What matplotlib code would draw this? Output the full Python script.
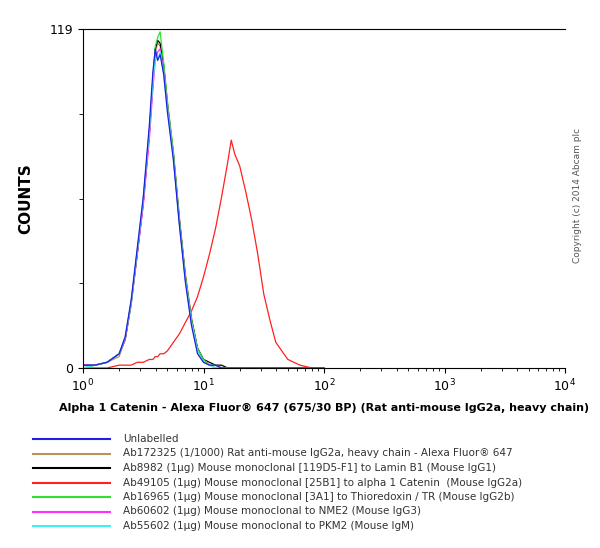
import matplotlib
matplotlib.use("Agg")
import matplotlib.pyplot as plt
from matplotlib.lines import Line2D
import numpy as np

logx = [0.0, 0.1, 0.2, 0.3, 0.35, 0.4, 0.45, 0.5, 0.55, 0.58, 0.6, 0.62, 0.64, 0.67, 0.7, 0.75, 0.8, 0.85, 0.9, 0.95, 1.0, 1.05, 1.1, 1.15, 1.2, 1.23, 1.26, 1.3, 1.35, 1.4, 1.45, 1.5, 1.55, 1.6, 1.7, 1.8, 1.9, 2.0]
unlabelled = [1, 1, 2, 5, 11, 24, 42, 60, 85, 104, 112, 108, 110, 103, 90, 73, 50, 30, 15, 5, 2, 1, 1, 0, 0, 0, 0, 0, 0, 0, 0, 0, 0, 0, 0, 0, 0, 0]
secondary  = [0, 1, 2, 4, 10, 22, 40, 58, 82, 100, 111, 114, 113, 106, 93, 76, 53, 33, 18, 7, 3, 1, 1, 0, 0, 0, 0, 0, 0, 0, 0, 0, 0, 0, 0, 0, 0, 0]
lamin      = [1, 1, 2, 5, 10, 23, 40, 58, 82, 101, 112, 115, 114, 106, 93, 75, 52, 32, 17, 7, 3, 2, 1, 1, 0, 0, 0, 0, 0, 0, 0, 0, 0, 0, 0, 0, 0, 0]
catenin    = [0, 0, 0, 1, 1, 1, 2, 2, 3, 3, 4, 4, 5, 5, 6, 9, 12, 16, 20, 25, 32, 40, 49, 60, 72, 80, 75, 71, 62, 52, 40, 26, 17, 9, 3, 1, 0, 0]
thioredoxin= [0, 1, 2, 5, 10, 23, 41, 59, 83, 101, 113, 116, 118, 107, 94, 76, 52, 32, 17, 7, 3, 1, 1, 0, 0, 0, 0, 0, 0, 0, 0, 0, 0, 0, 0, 0, 0, 0]
nme2       = [1, 1, 2, 5, 10, 23, 40, 57, 80, 98, 108, 111, 112, 104, 92, 74, 51, 31, 16, 6, 2, 1, 0, 0, 0, 0, 0, 0, 0, 0, 0, 0, 0, 0, 0, 0, 0, 0]
pkm2       = [0, 1, 2, 5, 11, 23, 41, 59, 83, 100, 109, 108, 111, 103, 91, 74, 51, 31, 16, 6, 2, 1, 0, 0, 0, 0, 0, 0, 0, 0, 0, 0, 0, 0, 0, 0, 0, 0]

labels = ["Unlabelled",
          "Ab172325 (1/1000) Rat anti-mouse IgG2a, heavy chain - Alexa Fluor® 647",
          "Ab8982 (1µg) Mouse monoclonal [119D5-F1] to Lamin B1 (Mouse IgG1)",
          "Ab49105 (1µg) Mouse monoclonal [25B1] to alpha 1 Catenin  (Mouse IgG2a)",
          "Ab16965 (1µg) Mouse monoclonal [3A1] to Thioredoxin / TR (Mouse IgG2b)",
          "Ab60602 (1µg) Mouse monoclonal to NME2 (Mouse IgG3)",
          "Ab55602 (1µg) Mouse monoclonal to PKM2 (Mouse IgM)"]
colors = ["#2020e0", "#b8965a", "#000000", "#ff2020", "#30e030", "#ff30ff", "#40f0f0"]
series = [unlabelled, secondary, lamin, catenin, thioredoxin, nme2, pkm2]

fig = plt.figure(figsize=(6, 5.48), dpi=100)
ax = fig.add_axes([83/600, 1-368/548, 482/600, 339/548])
xv = 10 ** np.array(logx)
order = [3, 1, 2, 4, 5, 6, 0]
for i in order:
    ax.plot(xv, series[i], color=colors[i], lw=0.9)
ax.set_xscale("log")
ax.set_xlim(1, 1e4)
ax.set_ylim(0, 119)
ax.set_yticks([0, 119])
ax.set_yticks([29.75, 59.5, 89.25], minor=True)
ax.tick_params(axis='y', which='minor', length=3)
ax.tick_params(labelsize=9)
ax.spines['right'].set_visible(False)
ax.set_ylabel("COUNTS", fontsize=11, fontweight='bold', labelpad=12)
ax.set_xlabel("Alpha 1 Catenin - Alexa Fluor® 647 (675/30 BP) (Rat anti-mouse IgG2a, heavy chain)",
              fontsize=8, fontweight='bold', labelpad=6)
fig.text(578/600, 1-195/548, "Copyright (c) 2014 Abcam plc", rotation=90, fontsize=6.5,
         color="#555555", ha='center', va='center')
for k, (lab, c) in enumerate(zip(labels, colors)):
    y = 1 - (439 + k*14.5)/548
    fig.add_artist(Line2D([33/600, 110/600], [y, y], color=c, lw=1.5))
    fig.text(123/600, y, lab, fontsize=7.5, va='center', color="#333333")
fig.savefig("out.png", dpi=100)
